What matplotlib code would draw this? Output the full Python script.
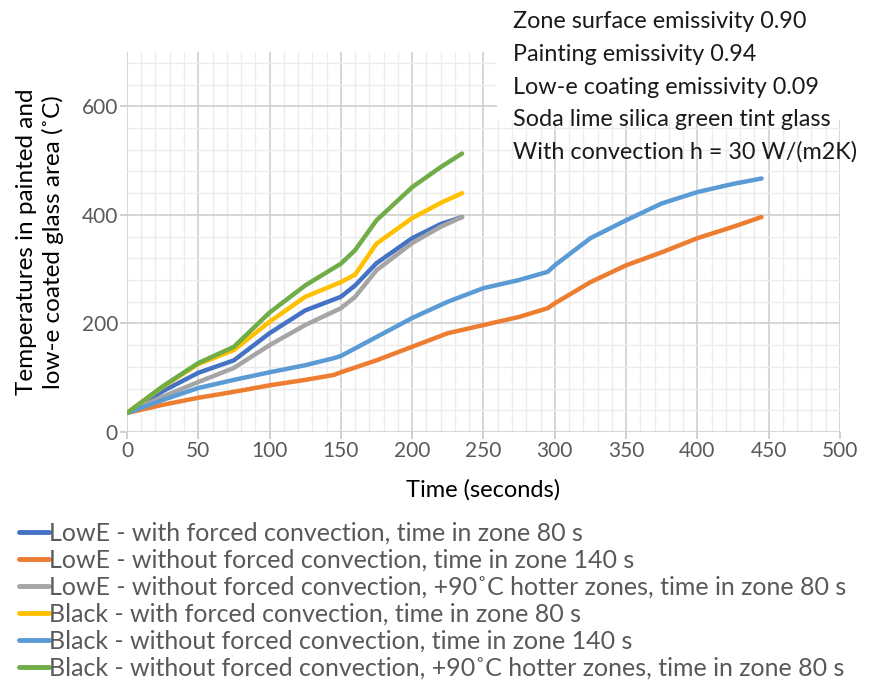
import matplotlib
matplotlib.use("Agg")
import matplotlib.pyplot as plt
from matplotlib.patches import Rectangle
from matplotlib.ticker import MultipleLocator

plt.rcParams['font.family'] = ['Lato', 'DejaVu Sans']

# temperature curves (time in s, temperature in C)
t_80 = [0, 25, 50, 75, 100, 125, 150, 160, 175, 200, 220, 235]
lowe_forced = [35, 75, 109, 132, 182, 224, 249, 270, 311, 357, 383, 396]
lowe_hot = [35, 65, 92, 118, 160, 197, 228, 249, 298, 348, 378, 396]
black_forced = [35, 83, 125, 151, 203, 249, 276, 290, 347, 394, 422, 440]
black_hot = [35, 84, 127, 157, 220, 270, 310, 335, 390, 451, 488, 513]

t_140 = [0, 25, 50, 75, 100, 125, 145, 150, 175, 200, 225, 250, 275, 295, 300,
         325, 350, 375, 400, 425, 445]
lowe_noconv = [35, 50, 63, 74, 86, 96, 105, 110, 132, 157, 182, 197, 212, 228,
               237, 276, 307, 331, 357, 378, 396]
black_noconv = [35, 59, 81, 96, 110, 123, 136, 140, 175, 210, 240, 265, 280, 295,
                307, 357, 390, 421, 442, 457, 467]

labels = [
    "LowE - with forced convection, time in zone 80 s",
    "LowE - without forced convection, time in zone 140 s",
    "LowE - without forced convection, +90˚C hotter zones, time in zone 80 s",
    "Black - with forced convection, time in zone 80 s",
    "Black - without forced convection, time in zone 140 s",
    "Black - without forced convection, +90˚C hotter zones, time in zone 80 s",
]
colors = ["#4472C4", "#ED7D31", "#A5A5A5", "#FFC000", "#5B9BD5", "#70AD47"]

fig = plt.figure(figsize=(8.69, 6.98), dpi=100)
ax = fig.add_axes([0.1461, 0.3811, 0.8205, 0.5444])

series = [(t_80, lowe_forced), (t_140, lowe_noconv), (t_80, lowe_hot),
          (t_80, black_forced), (t_140, black_noconv), (t_80, black_hot)]
for (tt, vals), lab, c in zip(series, labels, colors):
    ax.plot(tt, vals, color=c, lw=3.2, label=lab, solid_capstyle='round', zorder=3)

ax.set_xlim(0, 500)
ax.set_ylim(0, 700)
ax.xaxis.set_major_locator(MultipleLocator(50))
ax.xaxis.set_minor_locator(MultipleLocator(10))
ax.yaxis.set_major_locator(MultipleLocator(200))
ax.yaxis.set_minor_locator(MultipleLocator(40))
ax.grid(which='major', color='#d0d0d0', lw=1.2)
ax.grid(which='minor', color='#ececec', lw=1.0)
ax.set_axisbelow(True)
for s in ax.spines.values():
    s.set_visible(False)
ax.tick_params(which='major', length=5, color='#c8c8c8', labelsize=15,
               labelcolor='#595959', width=1.2, pad=1.5)
ax.tick_params(which='minor', length=0)

ax.set_xlabel("Time (seconds)", fontsize=17, labelpad=13)
ax.set_ylabel("Temperatures in painted and\nlow-e coated glass area (˚C)",
              fontsize=17.5, labelpad=13, linespacing=1.25)

# white box behind the notes, hides the grid under the first lines
fig.add_artist(Rectangle((497 / 869, 1 - 120 / 698), 372 / 869, 70 / 698,
                         transform=fig.transFigure, facecolor='white',
                         edgecolor='none', zorder=2))
info = ["Zone surface emissivity 0.90", "Painting emissivity 0.94",
        "Low-e coating emissivity 0.09", "Soda lime silica green tint glass",
        "With convection h = 30 W/(m2K)"]
for i, line in enumerate(info):
    fig.text(513 / 869, 1 - (22 + i * 32.5) / 698, line, fontsize=16.8,
             va='center', ha='left', color='#1a1a1a', zorder=5)

leg = fig.legend(loc='upper left', bbox_to_anchor=(0.022, 0.2525), frameon=False,
                 fontsize=18, handlelength=1.2, handletextpad=0.0,
                 labelspacing=0.16, borderaxespad=0, borderpad=0)
for txt in leg.get_texts():
    txt.set_color('#595959')
for h in leg.get_lines():
    h.set_linewidth(3.5)

fig.savefig("out.png", dpi=100)
